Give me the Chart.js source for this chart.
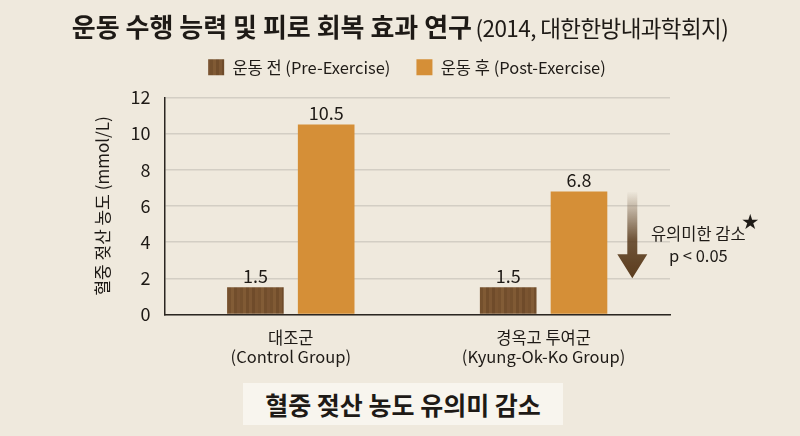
<!DOCTYPE html>
<html>
<head>
<meta charset="utf-8">
<script src="https://cdn.jsdelivr.net/npm/chart.js@4.4.1/dist/chart.umd.min.js"></script>
<style>
  html, body { margin:0; padding:0; }
  body { width:800px; height:436px; background:#efe9dd; position:relative; overflow:hidden;
         font-family:'Noto Sans CJK KR','Noto Sans',sans-serif; color:#1e1a16; }
  #title { position:absolute; left:0; top:7px; width:800px; text-align:center; white-space:nowrap; z-index:2; }
  #title .main { font-size:26px; font-weight:700; }
  #title .sub { font-size:22.5px; font-weight:400; letter-spacing:-0.6px; }
  #caption { position:absolute; left:243px; top:383px; width:320px; height:42px; line-height:42px;
             background:#f8f5ee; text-align:center; font-size:25px; font-weight:700; z-index:2; }
  #wrap { position:absolute; left:0; top:0; width:800px; height:436px; }
</style>
</head>
<body>
<div id="title"><span class="main">운동 수행 능력 및 피로 회복 효과 연구</span> <span class="sub">(2014, 대한한방내과학회지)</span></div>
<div id="wrap"><canvas id="chart" width="800" height="436"></canvas></div>
<div id="caption">혈중 젖산 농도 유의미 감소</div>
<script>
var groupLabels = [['대조군', '(Control Group)'], ['경옥고 투여군', '(Kyung-Ok-Ko Group)']];
var seriesNames = ['운동 전 (Pre-Exercise)', '운동 후 (Post-Exercise)'];
var preValues = [1.5, 1.5];
var postValues = [10.5, 6.8];
var yTicks = [0, 2, 4, 6, 8, 10, 12];
var arrowFrom = 6.8;
var arrowTo = 2.0;
var noteLines = ['유의미한 감소', 'p < 0.05'];

var FONT = "'Noto Sans CJK KR','Noto Sans',sans-serif";

// wood-look fill for the pre-exercise bars
function woodPattern()
{
    var c = document.createElement('canvas');
    c.width = 30; c.height = 40;
    var g = c.getContext('2d');
    g.fillStyle = '#7a5430';
    g.fillRect(0, 0, 30, 40);
    var shades = ['#74502d', '#805a34', '#714d2b', '#7d5733', '#6f4b2a', '#7b5531', '#76512e', '#825c36', '#724e2c', '#7a5432'];
    for (var i = 0; i < 30; i += 3) {
        g.fillStyle = shades[(i / 3) % shades.length];
        g.fillRect(i, 0, 3, 40);
    }
    return g.createPattern(c, 'repeat');
}

// extra room under the legend, and nudge it right
var legendGap = {
    id: 'legendGap',
    beforeInit: function(chart)
    {
        var fit = chart.legend.fit;
        chart.legend.fit = function() {
            fit.bind(chart.legend)();
            this.height += 12;
        };
    },
    afterLayout: function(chart)
    {
        chart.legend.left += 28;
        chart.legend.right += 28;
    }
};

var valueLabels = {
    id: 'valueLabels',
    afterDatasetsDraw: function(chart)
    {
        var ctx = chart.ctx;
        ctx.save();
        ctx.font = '18px ' + FONT;
        ctx.fillStyle = '#1e1a16';
        ctx.textAlign = 'center';
        ctx.textBaseline = 'bottom';
        chart.data.datasets.forEach(function(ds, i) {
            chart.getDatasetMeta(i).data.forEach(function(bar, j) {
                ctx.fillText(ds.data[j].toFixed(1), bar.x, bar.y - 2);
            });
        });
        ctx.restore();
    }
};

var arrowNote = {
    id: 'arrowNote',
    afterDraw: function(chart)
    {
        var ctx = chart.ctx;
        var y = chart.scales.y;
        var bar = chart.getDatasetMeta(1).data[1];
        var x = bar.x + bar.width / 2 + 25;
        var y1 = y.getPixelForValue(arrowFrom);
        var y2 = y.getPixelForValue(arrowTo);
        var headH = 24, shaft = 5, head = 15;
        var grad = ctx.createLinearGradient(0, y1, 0, y2);
        grad.addColorStop(0, 'rgba(90,60,30,0.0)');
        grad.addColorStop(0.55, 'rgba(90,60,30,0.85)');
        grad.addColorStop(1, '#5a3b1c');
        ctx.save();
        ctx.fillStyle = grad;
        ctx.beginPath();
        ctx.moveTo(x - shaft, y1);
        ctx.lineTo(x + shaft, y1);
        ctx.lineTo(x + shaft, y2 - headH);
        ctx.lineTo(x + head, y2 - headH);
        ctx.lineTo(x, y2);
        ctx.lineTo(x - head, y2 - headH);
        ctx.lineTo(x - shaft, y2 - headH);
        ctx.closePath();
        ctx.fill();

        var tx = x + 66;
        var ty = (y1 + y2) / 2;
        ctx.fillStyle = '#1e1a16';
        ctx.font = '16.5px ' + FONT;
        ctx.textAlign = 'center';
        ctx.textBaseline = 'middle';
        ctx.fillText(noteLines[0], tx, ty - 1);
        ctx.fillText(noteLines[1], tx, ty + 21);
        ctx.font = '17px ' + FONT;
        ctx.fillText('★', tx + 52, ty - 13);
        ctx.restore();
    }
};

new Chart(document.getElementById('chart'), {
    type: 'bar',
    data: {
        labels: groupLabels,
        datasets: [
            { label: seriesNames[0], data: preValues, backgroundColor: woodPattern(),
              categoryPercentage: 0.56, barPercentage: 0.80 },
            { label: seriesNames[1], data: postValues, backgroundColor: '#d58f37',
              categoryPercentage: 0.56, barPercentage: 0.80 }
        ]
    },
    options: {
        responsive: false,
        animation: false,
        devicePixelRatio: 1,
        layout: { padding: { top: 33, left: 88, right: 130, bottom: 64 } },
        plugins: {
            legend: {
                position: 'top',
                labels: { boxWidth: 16, boxHeight: 16, padding: 26, color: '#1e1a16',
                          font: { family: FONT, size: 16.5 } }
            },
            tooltip: { enabled: false }
        },
        scales: {
            x: {
                grid: { display: false },
                border: { color: '#2b2621', width: 1.5 },
                ticks: { color: '#1e1a16', padding: 5, font: { family: FONT, size: 16.5 } }
            },
            y: {
                min: yTicks[0], max: yTicks[yTicks.length - 1],
                afterBuildTicks: function(axis) { axis.ticks = yTicks.map(function(v) { return { value: v }; }); },
                grid: { color: '#d3cec4', lineWidth: 1.5, drawTicks: false },
                border: { color: '#2b2621', width: 1.5 },
                ticks: { color: '#1e1a16', padding: 14, font: { family: FONT, size: 18 } },
                title: { display: true, text: '혈중 젖산 농도 (mmol/L)', color: '#1e1a16',
                         padding: { bottom: 4 }, font: { family: FONT, size: 17 } }
            }
        }
    },
    plugins: [legendGap, valueLabels, arrowNote]
});
</script>
</body>
</html>
